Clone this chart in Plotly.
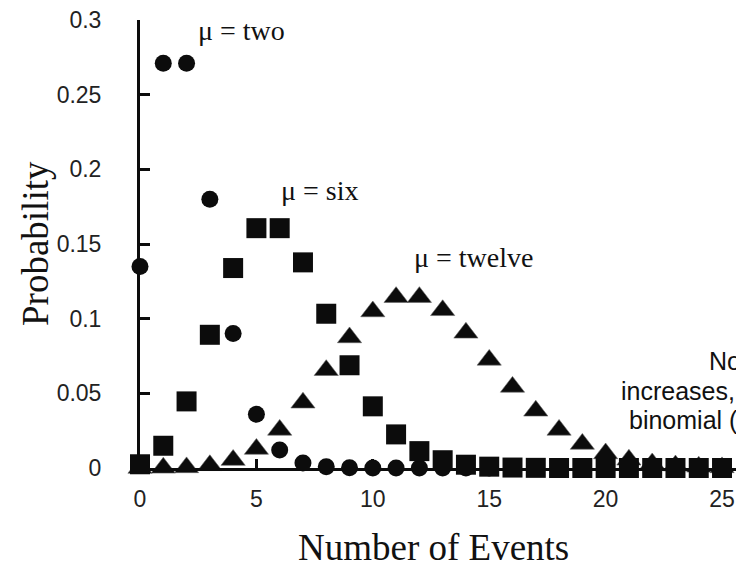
import plotly.graph_objects as go

# ---- data ----
events = list(range(0, 26))
p_two = [0.135, 0.271, 0.271, 0.180, 0.090, 0.036, 0.012, 0.0034, 0.0009, 0.0002,
         0.00004, 0.0, 0.0, 0.0, 0.0, 0.0, 0.0, 0.0, 0.0, 0.0,
         0.0, 0.0, 0.0, 0.0, 0.0, 0.0]
p_six = [0.0025, 0.0149, 0.0446, 0.0892, 0.1339, 0.1606, 0.1606, 0.1377, 0.1033, 0.0688,
         0.0413, 0.0225, 0.0113, 0.0052, 0.0022, 0.0009, 0.0003, 0.0001, 0.0, 0.0,
         0.0, 0.0, 0.0, 0.0, 0.0, 0.0]
p_twelve = [0.0, 0.0001, 0.0004, 0.0018, 0.0053, 0.0127, 0.0255, 0.0437, 0.0655, 0.0874,
            0.1048, 0.1144, 0.1144, 0.1056, 0.0905, 0.0724, 0.0543, 0.0383, 0.0255, 0.0161,
            0.0097, 0.0055, 0.0030, 0.0016, 0.0008, 0.0004]
x_ticks = [0, 5, 10, 15, 20, 25]
y_ticks = [0, 0.05, 0.1, 0.15, 0.2, 0.25, 0.3]
y_tick_labels = ["0", "0.05", "0.1", "0.15", "0.2", "0.25", "0.3"]

INK = "#0c0c0c"
SERIF = "Liberation Serif, Times New Roman, serif"
SANS = "Liberation Sans, Arial, sans-serif"

fig = go.Figure()
fig.add_trace(go.Scatter(x=events, y=p_two, mode="markers", cliponaxis=False,
                         marker=dict(symbol="circle", size=17, color=INK), name="two"))
fig.add_trace(go.Scatter(x=events, y=p_twelve, mode="markers", cliponaxis=False,
                         marker=dict(symbol="triangle-up", size=21, color=INK,
                                     line=dict(color="#666", width=0.6)), name="twelve"))
fig.add_trace(go.Scatter(x=events, y=p_six, mode="markers", cliponaxis=False,
                         marker=dict(symbol="square", size=20, color=INK), name="six"))

# plot area in pixels: left 140, right 736, top 20, bottom 468
def fx(p):
    return (p - 140) / 596.0

def fy(p):
    return (468 - p) / 448.0

ann = []
for txt, lx, cy in [("μ = two", 196, 31), ("μ = six", 279, 190), ("μ = twelve", 412, 257)]:
    ann.append(dict(x=fx(lx), y=fy(cy), xref="paper", yref="paper", text=txt, showarrow=False,
                    xanchor="left", yanchor="middle", font=dict(family=SERIF, size=28, color="#111")))
for txt, lx, cy in [("No", 707, 361), ("increases,", 619, 391), ("binomial (", 627, 420)]:
    ann.append(dict(x=fx(lx), y=fy(cy), xref="paper", yref="paper", text=txt, showarrow=False,
                    xanchor="left", yanchor="middle", font=dict(family=SANS, size=25, color="#111")))
ann.append(dict(x=fx(35), y=fy(244), xref="paper", yref="paper", text="Probability", textangle=-90,
                showarrow=False, xanchor="center", yanchor="middle",
                font=dict(family=SERIF, size=37, color="#111")))
ann.append(dict(x=fx(433), y=fy(547), xref="paper", yref="paper", text="Number of Events",
                showarrow=False, xanchor="center", yanchor="middle",
                font=dict(family=SERIF, size=37, color="#111")))

fig.update_layout(
    width=736, height=571,
    margin=dict(l=140, r=0, t=20, b=103),
    paper_bgcolor="white", plot_bgcolor="white",
    showlegend=False,
    annotations=ann,
    xaxis=dict(range=[0, 25.6], tickvals=x_ticks, ticks="inside", ticklen=9, tickwidth=3,
               tickcolor=INK, showline=True, linecolor=INK, linewidth=3, showgrid=False,
               zeroline=False, ticklabelstandoff=8,
               tickfont=dict(family=SANS, size=23, color="#222")),
    yaxis=dict(range=[0, 0.3], tickvals=y_ticks, ticktext=y_tick_labels, ticks="inside",
               ticklen=10, tickwidth=3, tickcolor=INK, showline=True, linecolor=INK,
               linewidth=3, showgrid=False, zeroline=False, ticklabelstandoff=31,
               tickfont=dict(family=SANS, size=23, color="#222")),
)

fig.write_html("out.html")
